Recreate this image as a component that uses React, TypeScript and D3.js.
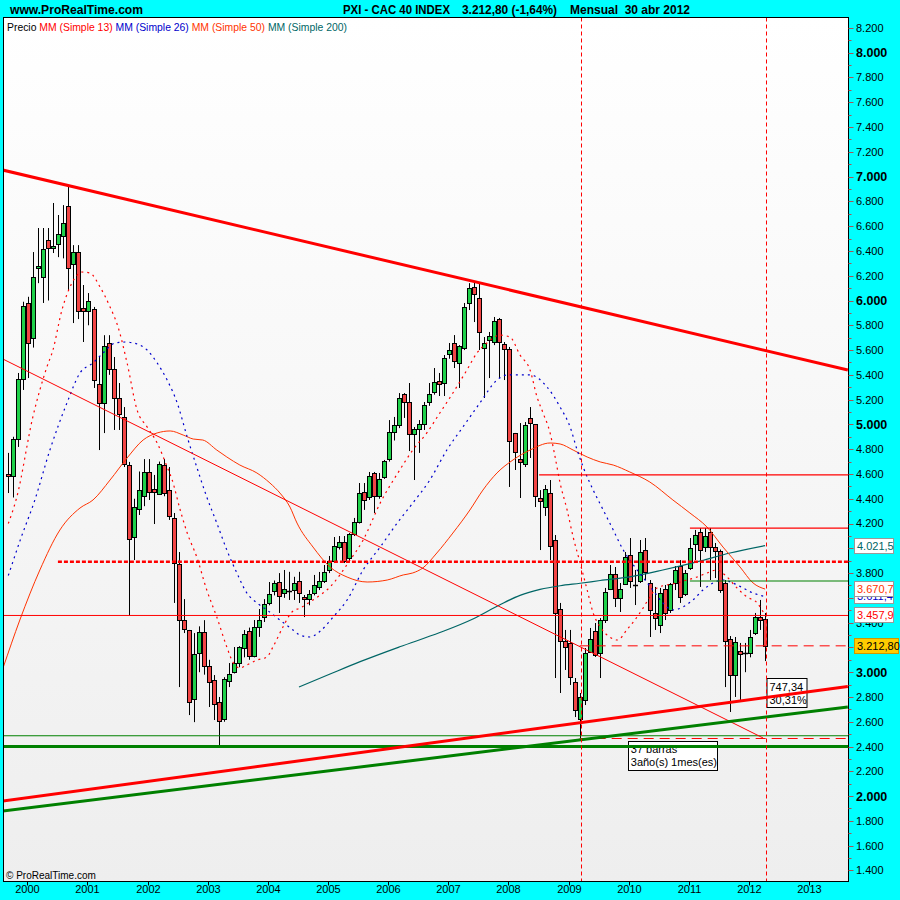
import React from 'react';
import * as d3 from 'd3';

// monthly candles, first bar = Sep 1999, last bar = Apr 2012
const openP = [4600, 4583, 4882, 5366, 5980, 5700, 6265, 6190, 6488, 6424, 6455, 6520, 6763, 6295, 6391, 5939, 5915, 5931, 5326, 5173, 5657, 5447, 5213, 5060, 4672, 4091, 4317, 4422, 4616, 4479, 4438, 4672, 4470, 4245, 3873, 3421, 3341, 2784, 3152, 3324, 3050, 2935, 2759, 2622, 2929, 3002, 3074, 3195, 3332, 3131, 3365, 3445, 3559, 3655, 3728, 3639, 3655, 3663, 3736, 3607, 3591, 3639, 3688, 3736, 3825, 3898, 4010, 4051, 3922, 4115, 4212, 4454, 4414, 4608, 4422, 4575, 4721, 4939, 4995, 5245, 5181, 4922, 4963, 5003, 5181, 5262, 5350, 5334, 5568, 5657, 5496, 5617, 5980, 6109, 6020, 5617, 5681, 5665, 5851, 5649, 5609, 4931, 4721, 4680, 5052, 5003, 4406, 4333, 4446, 4067, 3510, 3252, 3236, 2921, 2622, 2776, 3163, 3332, 3155, 3421, 3671, 3793, 3599, 3712, 3946, 3700, 3736, 3986, 3720, 3478, 3381, 3671, 3502, 3720, 3857, 3631, 3841, 4035, 4131, 4010, 4131, 4010, 3978, 3720, 3268, 2977, 3171, 3150, 3155, 3316, 3445, 3429];
const highP = [4770, 4900, 5415, 5990, 6030, 6391, 6585, 6585, 6585, 6787, 6690, 6770, 6932, 6447, 6447, 6125, 6060, 5948, 5544, 5720, 5720, 5544, 5334, 5140, 4697, 4400, 4620, 4720, 4720, 4592, 4700, 4720, 4656, 4285, 3970, 3590, 3341, 3316, 3370, 3420, 3100, 2977, 2800, 2960, 3074, 3203, 3210, 3340, 3360, 3421, 3510, 3590, 3728, 3740, 3800, 3825, 3810, 3770, 3810, 3623, 3663, 3785, 3809, 3865, 3938, 4091, 4099, 4099, 4123, 4245, 4527, 4527, 4616, 4616, 4608, 4713, 5035, 5060, 5253, 5253, 5334, 4979, 5035, 5181, 5334, 5455, 5415, 5560, 5657, 5721, 5640, 5980, 6140, 6148, 6140, 5705, 5746, 5867, 5859, 5665, 5625, 4931, 5011, 5019, 5140, 5003, 4470, 4511, 4551, 4107, 3559, 3341, 3341, 2953, 2832, 3195, 3357, 3397, 3437, 3680, 3865, 3849, 3720, 3970, 4083, 3825, 4067, 4083, 3744, 3688, 3680, 3704, 3720, 3857, 3905, 3825, 4083, 4148, 4164, 4164, 4164, 4043, 3990, 3744, 3292, 3284, 3236, 3236, 3341, 3478, 3583, 3478];
const lowP = [4446, 4410, 4818, 5278, 5374, 5620, 6140, 5980, 6000, 6383, 6350, 6340, 6085, 5818, 5850, 5665, 5800, 5294, 4793, 4930, 5400, 4955, 4955, 4656, 3458, 3905, 4269, 4340, 4390, 4196, 4430, 4420, 4229, 3559, 2880, 3316, 2654, 2597, 3000, 2980, 2719, 2614, 2400, 2600, 2880, 2990, 3040, 3120, 3100, 3120, 3285, 3405, 3540, 3620, 3478, 3600, 3583, 3583, 3559, 3445, 3540, 3620, 3663, 3720, 3800, 3881, 3990, 3881, 3890, 4099, 4200, 4310, 4390, 4285, 4400, 4560, 4700, 4870, 4970, 5052, 4785, 4551, 4770, 4955, 5150, 5240, 5229, 5229, 5530, 5455, 5294, 5600, 5923, 5826, 5600, 5213, 5374, 5640, 5374, 5358, 4495, 4632, 4406, 4656, 4729, 4333, 3986, 4261, 3905, 2953, 2832, 3018, 2897, 2638, 2465, 2735, 3155, 3123, 2953, 3397, 3663, 3526, 3486, 3704, 3680, 3542, 3720, 3744, 3284, 3341, 3316, 3421, 3478, 3663, 3559, 3615, 3825, 3905, 3688, 3970, 3744, 3760, 3640, 2880, 2679, 2800, 2776, 3000, 3120, 3300, 3341, 3090];
const closeP = [4583, 4882, 5366, 5956, 5657, 6190, 6275, 6416, 6424, 6440, 6535, 6625, 6262, 6391, 5915, 5915, 5996, 5358, 5173, 5633, 5447, 5213, 5084, 4680, 4075, 4333, 4470, 4616, 4454, 4454, 4680, 4446, 4261, 3881, 3421, 3349, 2759, 3147, 3322, 3050, 2921, 2743, 2606, 2945, 2985, 3074, 3203, 3308, 3131, 3365, 3421, 3550, 3631, 3720, 3615, 3671, 3650, 3720, 3639, 3591, 3631, 3704, 3736, 3809, 3898, 4018, 4051, 3898, 4115, 4212, 4446, 4390, 4583, 4422, 4559, 4705, 4939, 4995, 5213, 5181, 4922, 4963, 5003, 5157, 5245, 5342, 5326, 5536, 5600, 5512, 5633, 5948, 6101, 6053, 5746, 5657, 5713, 5834, 5665, 5609, 4866, 4777, 4697, 4995, 5011, 4422, 4382, 4479, 4019, 3478, 3252, 3203, 2961, 2695, 2800, 3155, 3268, 3139, 3421, 3647, 3793, 3599, 3671, 3930, 3736, 3705, 3970, 3809, 3502, 3438, 3639, 3478, 3712, 3825, 3607, 3801, 4002, 4107, 3986, 4099, 4010, 3978, 3663, 3252, 2977, 3244, 3147, 3155, 3284, 3445, 3421, 3213];

// moving averages: [bar index, value]
const ma13: [number, number][] = [[0, 4200], [1.7, 4414], [4.9, 5060], [7.7, 5463], [8.9, 5600], [10.7, 5923], [12.7, 6141], [14.7, 6230], [16.3, 6222], [18.3, 6109], [20.3, 5948], [21.9, 5786], [23.7, 5496], [25.7, 5116], [27.7, 4979], [29.7, 4850], [31.7, 4656], [32.7, 4551], [34.3, 4309], [35.7, 4123], [37.6, 3930], [39.6, 3663], [41.6, 3445], [43.6, 3203], [44.8, 3082], [46.2, 3034], [47.6, 3058], [49.6, 3098], [51.6, 3123], [52.8, 3203], [54.8, 3365], [56.6, 3486], [58.2, 3518], [60.8, 3583], [64.2, 3688], [68.2, 3905], [70.8, 4067], [74.2, 4365], [78.1, 4632], [80.7, 4793], [83.5, 4931], [86.1, 5092], [88.7, 5253], [91.5, 5439], [93.5, 5576], [95.5, 5657], [98.1, 5721], [100.1, 5705], [102.1, 5560], [104.1, 5439], [105.5, 5221], [106.7, 5092], [108.1, 4931], [109.1, 4737], [110.1, 4527], [111.5, 4309], [112.7, 4091], [114.1, 3881], [115.5, 3663], [116.7, 3478], [118.1, 3365], [120, 3284], [121.6, 3260], [123.4, 3341], [125, 3421], [126.4, 3502], [128, 3607], [129.4, 3680], [131.4, 3704], [133.4, 3720], [135.4, 3744], [137.4, 3768], [139.4, 3801], [141.4, 3825], [143, 3785], [145.4, 3680], [147.4, 3607], [149.4, 3560], [151, 3458]];
const ma26: [number, number][] = [[0, 3780], [2.5, 4080], [5.3, 4390], [8.3, 4793], [11.7, 5173], [14.3, 5415], [16.9, 5496], [18.9, 5576], [21.3, 5657], [23.3, 5665], [25.7, 5649], [27.7, 5600], [29.7, 5496], [31.7, 5358], [33.7, 5173], [35.7, 4898], [37.6, 4656], [39.6, 4414], [41.6, 4204], [43.6, 3986], [45.6, 3801], [47.6, 3639], [49.6, 3559], [51.6, 3502], [54.2, 3421], [56.8, 3341], [58.2, 3300], [60.2, 3284], [62.2, 3330], [64.8, 3445], [67.6, 3583], [70.8, 3825], [74.2, 4010], [77.6, 4204], [80.7, 4365], [84.1, 4551], [87.5, 4793], [90.7, 4979], [94.1, 5173], [97.5, 5358], [99.5, 5399], [104.1, 5399], [107.5, 5302], [110.1, 5140], [112.1, 4979], [113.5, 4793], [114.7, 4656], [116.7, 4470], [118.7, 4309], [120.7, 4148], [122.7, 3986], [124, 3905], [126.6, 3768], [128.6, 3663], [130.6, 3559], [132.6, 3502], [134.6, 3526], [136.6, 3583], [138.6, 3663], [140.6, 3720], [142.6, 3744], [144.6, 3720], [146.6, 3680], [148.6, 3639], [151, 3611]];
const ma50: [number, number][] = [[-1, 3040], [2.3, 3421], [6.3, 3825], [10.3, 4148], [14.3, 4325], [16.9, 4390], [20.3, 4551], [23.7, 4729], [26.9, 4874], [29.7, 4931], [32.3, 4947], [34.9, 4914], [36.9, 4882], [38.8, 4874], [41.6, 4793], [43.6, 4737], [46.2, 4672], [49.6, 4608], [52.2, 4527], [54.2, 4446], [56.2, 4333], [57.6, 4204], [60.8, 4010], [64.2, 3849], [67.6, 3768], [71.6, 3728], [75.6, 3744], [78.8, 3785], [80.7, 3801], [82.7, 3841], [85.5, 3962], [88.7, 4123], [92.1, 4309], [94.7, 4470], [97.5, 4608], [100.7, 4713], [104.1, 4793], [108.1, 4850], [110.1, 4842], [112.7, 4793], [115.5, 4737], [118.1, 4697], [120.7, 4672], [124, 4616], [128, 4535], [132.6, 4390], [136, 4285], [139.4, 4172], [142.6, 4010], [146, 3849], [148.6, 3720], [151, 3671]];
const ma200: [number, number][] = [[58, 2880], [64.2, 2985], [70.2, 3085], [78.1, 3205], [86.1, 3320], [92.7, 3430], [98.1, 3545], [102.1, 3620], [106.1, 3668], [110.1, 3698], [114.1, 3718], [118.1, 3740], [124, 3770], [130.6, 3825], [137.4, 3890], [144, 3962], [151, 4021.5]];

// drawn trend lines: two anchors [bar index, value]
const trendLines = [
  { a: [-1.1, 7053], b: [167.5, 5439], color: '#ff0000', w: 3 },
  { a: [-1.1, 5528], b: [150.6, 2469], color: '#ff0000', w: 1 },
  { a: [-1.1, 1960], b: [167.5, 2885], color: '#ff0000', w: 3 },
  { a: [-1.1, 1880], b: [167.5, 2719], color: '#008000', w: 3 },
];
const levelLines = [
  { v: 3457.9, from: -1.1, color: '#ff0000', w: 1, dash: '' },
  { v: 2487, from: -1.1, color: '#008000', w: 1, dash: '' },
  { v: 3892, from: 9.9, color: '#ff0000', w: 2.5, dash: '4,2' },
  { v: 4592, from: 105.9, color: '#ff0000', w: 1.3, dash: '' },
  { v: 4163, from: 136, color: '#ff0000', w: 1.3, dash: '' },
  { v: 3736, from: 136, color: '#008000', w: 1, dash: '' },
  { v: 3212.8, from: 114, color: '#ff0000', w: 1, dash: '10,6' },
  { v: 2465, from: 114, color: '#ff0000', w: 1, dash: '10,6' },
  { v: 2400, from: -1.1, color: '#008000', w: 3, dash: '' },
];
const markerBars = [114, 151];

// 4.000 and 3.200 sit fully under the value boxes in the original, so they are left out
const priceTicks = [8200, 8000, 7800, 7600, 7400, 7200, 7000, 6800, 6600, 6400, 6200, 6000, 5800, 5600, 5400, 5200, 5000, 4800, 4600, 4400, 4200, 3800, 3600, 3400, 3000, 2800, 2600, 2400, 2200, 2000, 1800, 1600, 1400];
const yearLabels = ['2000', '2001', '2002', '2003', '2004', '2005', '2006', '2007', '2008', '2009', '2010', '2011', '2012', '2013'];
const firstJanBar = 4;

const axisBoxes = [
  { v: 4021.5, text: '4.021,5', color: '#006666', bg: '#ffffff', w: 39 },
  { v: 3611.4, text: '3.611,4', color: '#0000cc', bg: '#ffffff', w: 39 },
  { v: 3670.7, text: '3.670,7', color: '#ff3300', bg: '#ffffff', w: 39 },
  { v: 3457.9, text: '3.457,9', color: '#ff0000', bg: '#ffffff', w: 39 },
  { v: 3212.8, text: '3.212,80', color: '#000000', bg: '#ffcc00', w: 44 },
];

const legendParts = [
  { t: 'Precio ', c: '#000000' },
  { t: 'MM (Simple 13) ', c: '#ff0000' },
  { t: 'MM (Simple 26) ', c: '#0000cc' },
  { t: 'MM (Simple 50) ', c: '#ff3300' },
  { t: 'MM (Simple 200)', c: '#006666' },
];

const P = { l: 3.5, r: 848.5, t: 17.5, b: 881.5 };
const FONT = 'Liberation Sans, Arial, sans-serif';

export default function App() {
  const x = d3.scaleLinear().domain([0, 151]).range([8.3, 765.1]);
  const y = d3.scaleLinear().domain([8000, 2000]).range([52.7, 796.1]);
  const px = (v: number) => Math.round(v) + 0.5;

  const maLine = d3
    .line<[number, number]>()
    .x((d) => x(d[0]))
    .y((d) => y(d[1]))
    .curve(d3.curveMonotoneX);

  const minorTicks = d3.range(1400, 8201, 100);

  return (
    <svg width={900} height={900} style={{ position: 'absolute', left: 0, top: 0 }} fontFamily={FONT}>
      <defs>
        <linearGradient id="bg" x1="0" y1="0" x2="0" y2="1">
          <stop offset="0" stopColor="#ffffff" />
          <stop offset="1" stopColor="#eeeeee" />
        </linearGradient>
        <clipPath id="clip">
          <rect x={P.l} y={P.t} width={P.r - P.l} height={P.b - P.t} />
        </clipPath>
      </defs>
      <rect width={900} height={900} fill="#00ffff" />
      <rect x={P.l} y={P.t} width={P.r - P.l} height={P.b - P.t} fill="url(#bg)" />

      {/* header */}
      <text x={10} y={14} fontSize={12} fontWeight="bold" textLength={133} lengthAdjust="spacingAndGlyphs">www.ProRealTime.com</text>
      <text x={343} y={14} fontSize={12} fontWeight="bold" textLength={107} lengthAdjust="spacingAndGlyphs">PXI - CAC 40 INDEX</text>
      <text x={462} y={14} fontSize={12} fontWeight="bold" textLength={95} lengthAdjust="spacingAndGlyphs">3.212,80 (-1,64%)</text>
      <text x={570} y={14} fontSize={12} fontWeight="bold" textLength={120} lengthAdjust="spacingAndGlyphs" style={{ whiteSpace: 'pre' }}>Mensual  30 abr 2012</text>

      <text x={7} y={31} fontSize={11} textLength={340} lengthAdjust="spacingAndGlyphs" style={{ whiteSpace: 'pre' }}>
        {legendParts.map((p, i) => (
          <tspan key={i} fill={p.c}>{p.t}</tspan>
        ))}
      </text>

      {/* measurement boxes, under the drawn lines */}
      <g fontSize={11}>
        <rect x={px(x(151)) + 1.5} y={px(y(2955))} width={40} height={29} fill="#ffffff" stroke="#000" />
        <text x={px(x(151)) + 4} y={y(2955) + 13}>747,34</text>
        <text x={px(x(151)) + 4} y={y(2955) + 26}>30,31%</text>
        <rect x={px(x(123.6))} y={px(y(2447))} width={89} height={29} fill="#ffffff" stroke="#000" />
        <text x={x(123.6) + 3} y={y(2447) + 12}>37 barras</text>
        <text x={x(123.6) + 3} y={y(2447) + 25}>3año(s) 1mes(es)</text>
      </g>

      <g clipPath="url(#clip)">
        {/* candles */}
        {closeP.map((c, i) => {
          const o = openP[i];
          const cx = px(x(i));
          const top = px(y(Math.max(o, c)));
          const bot = px(y(Math.min(o, c)));
          const up = c >= o;
          return (
            <g key={i}>
              <line x1={cx} x2={cx} y1={y(highP[i])} y2={y(lowP[i])} stroke="#000" strokeWidth={1} />
              {bot - top < 1.5 ? (
                <line x1={cx - 2.5} x2={cx + 2.5} y1={top} y2={top} stroke="#000" strokeWidth={1.5} />
              ) : (
                <rect x={cx - 2} y={top} width={4} height={bot - top} fill={up ? '#1fd14a' : '#f24545'} stroke="#000" strokeWidth={1} />
              )}
            </g>
          );
        })}

        {/* moving averages */}
        <path d={maLine(ma200) || ''} fill="none" stroke="#006666" strokeWidth={1.2} />
        <path d={maLine(ma50) || ''} fill="none" stroke="#ff3300" strokeWidth={1} />
        <path d={maLine(ma26) || ''} fill="none" stroke="#0000cc" strokeWidth={1.2} strokeDasharray="2,4" />
        <path d={maLine(ma13) || ''} fill="none" stroke="#ff0000" strokeWidth={1.2} strokeDasharray="2,4" />

        {/* drawn lines */}
        {levelLines.map((l, i) => (
          <line key={'h' + i} x1={x(l.from)} x2={P.r} y1={y(l.v)} y2={y(l.v)} stroke={l.color} strokeWidth={l.w} strokeDasharray={l.dash || undefined} />
        ))}
        {trendLines.map((l, i) => (
          <line key={'t' + i} x1={x(l.a[0])} y1={y(l.a[1])} x2={x(l.b[0])} y2={y(l.b[1])} stroke={l.color} strokeWidth={l.w} />
        ))}
        {markerBars.map((b) => (
          <line key={'v' + b} x1={px(x(b)) + 1} x2={px(x(b)) + 1} y1={P.t} y2={P.b} stroke="#ff0000" strokeWidth={1} strokeDasharray="4,3" />
        ))}
      </g>

      <rect x={P.l} y={P.t} width={P.r - P.l} height={P.b - P.t} fill="none" stroke="#000" strokeWidth={1} />

      <text x={6} y={879} fontSize={10}>© ProRealTime.com</text>

      {/* price axis */}
      {minorTicks.map((v) => (
        <line key={v} x1={P.r} x2={P.r + (v % 200 === 0 ? 5 : 3)} y1={px(y(v))} y2={px(y(v))} stroke="#aa5555" />
      ))}
      {priceTicks.map((v) => (
        <text key={v} x={856} y={y(v)} dy="0.36em" fontSize={v % 1000 === 0 ? 12.5 : 11} fontWeight={v % 1000 === 0 ? 'bold' : 'normal'}>
          {d3.format(',')(v).replace(',', '.')}
        </text>
      ))}
      {axisBoxes.map((b) => (
        <g key={b.text}>
          <rect x={854.5} y={Math.round(y(b.v)) - 7.5} width={b.w} height={15} fill={b.bg} stroke={b.bg === '#ffffff' ? '#999999' : '#cc9900'} />
          <text x={857} y={y(b.v)} dy="0.36em" fontSize={11} fill={b.color}>{b.text}</text>
        </g>
      ))}

      {/* time axis */}
      {yearLabels.map((yl, k) => {
        const xx = px(x(firstJanBar + 12 * k)) - 1;
        return (
          <g key={yl}>
            <line x1={xx} x2={xx} y1={P.b} y2={P.b + 4} stroke="#000" />
            <text x={xx} y={893} fontSize={11} textAnchor="middle">{yl}</text>
          </g>
        );
      })}
    </svg>
  );
}
